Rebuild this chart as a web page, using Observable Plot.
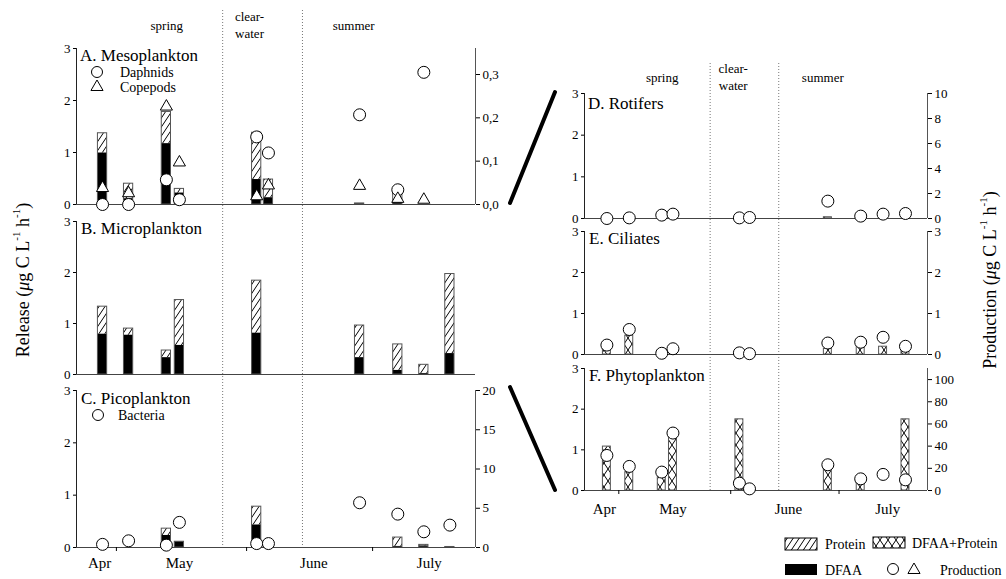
<!DOCTYPE html>
<html><head><meta charset="utf-8">
<script src="https://cdn.jsdelivr.net/npm/d3@7"></script>
<script src="https://cdn.jsdelivr.net/npm/@observablehq/plot@0.6"></script>
<style>
body{margin:0;background:#fff;}
#wrap{position:relative;width:1006px;height:579px;overflow:hidden;background:#fff;font-family:"Liberation Serif","Times New Roman",serif;}
#wrap svg, #wrap svg text{font-family:"Liberation Serif","Times New Roman",serif;}
</style></head><body><div id="wrap"></div>
<script>
// ---------- data ----------
const days = [26.7, 32.9, 41.9, 45.0, 63.4, 66.2, 87.9, 97.0, 103.2, 109.4];
const monthStarts = [30, 61, 91];
const monthLabels = ["Apr", "May", "June", "July"];
const monthLabelDays = [26, 45, 77, 104.5];
const seasonBreaks = [55.3, 74.3];
const seasonLabels = ["spring", "clear-\nwater", "summer"];
const seasonDays = [42, 61.7, 86.5];
const releaseTicks = [0, 1, 2, 3];

// A. Mesoplankton
const mesoTotal = [1.37, 0.40, 1.78, 0.30, 1.38, 0.48, 0.02, 0.21, 0, 0];
const mesoDFAA  = [0.99, 0.11, 1.17, 0.22, 0.48, 0.13, 0.02, 0.03, 0, 0];
const daphnids  = [0.0, 0.0, 0.057, 0.011, 0.156, 0.119, 0.207, 0.034, 0.305, null];
const copepods  = [0.038, 0.026, 0.226, 0.097, 0.019, 0.044, 0.043, 0.013, 0.011, null];
// B. Microplankton
const microTotal = [1.33, 0.90, 0.47, 1.46, 1.84, 0, 0.96, 0.59, 0.19, 1.97];
const microDFAA  = [0.79, 0.77, 0.33, 0.57, 0.81, 0, 0.33, 0.08, 0.02, 0.41];
// C. Picoplankton
const picoTotal = [0, 0, 0.36, 0.11, 0.78, 0, 0, 0.19, 0.05, 0.01];
const picoDFAA  = [0, 0, 0.23, 0.11, 0.43, 0, 0, 0.02, 0.03, 0.01];
const bacteria  = [0.4, 0.85, 0.3, 3.2, 0.5, 0.5, 5.7, 4.25, 2.0, 2.85];
// D. Rotifers
const rotRelease = [0, 0, 0, 0, 0, 0, 0.03, 0, 0, 0];
const rotifers   = [0.0, 0.05, 0.27, 0.35, 0.05, 0.08, 1.39, 0.19, 0.35, 0.40];
// E. Ciliates
const cilRelease = [0.18, 0.46, 0, 0, 0, 0, 0.14, 0.22, 0.19, 0.10];
const ciliates   = [0.23, 0.61, 0.03, 0.14, 0.04, 0.02, 0.28, 0.30, 0.42, 0.20];
// F. Phytoplankton
const phyRelease    = [1.08, 0.45, 0.33, 1.31, 1.75, 0, 0.57, 0.25, 0, 1.75];
const phytoplankton = [31.6, 21.7, 16.6, 51.8, 6.6, 1.5, 23.2, 10.5, 14.5, 9.6];

// ---------- layout ----------
const FONT = '"Liberation Serif","Times New Roman",Times,serif';
const X_DOMAIN = [20.5, 115.5];
const BW = 1.1;
const wrap = document.getElementById("wrap");
const COL = {
  L: {left: 0, width: 510, marginLeft: 76, marginRight: 35},
  R: {left: 560, width: 400, marginLeft: 24, marginRight: 33}
};
function place(svg, left, top) {
  svg.style.position = "absolute";
  svg.style.left = left + "px";
  svg.style.top = top + "px";
  svg.style.background = "transparent";
  svg.style.overflow = "visible";
  svg.style.fontFamily = FONT;
  svg.style.maxWidth = "none";
  svg.setAttribute("font-family", FONT);
  wrap.appendChild(svg);
}
const intFmt = d => String(d);

// season overlays (dotted lines + labels)
for (const s of [{c: COL.L, top: 0, height: 547, mt: 10, dy: 14}, {c: COL.R, top: 60, height: 430, mt: 3, dy: 13}]) {
  const svg = Plot.plot({
    width: s.c.width, height: s.height,
    marginLeft: s.c.marginLeft, marginRight: s.c.marginRight, marginTop: s.mt, marginBottom: 0,
    x: {domain: X_DOMAIN, axis: null, label: null},
    marks: [
      Plot.ruleX(seasonBreaks, {stroke: "#777", strokeDasharray: "1,2"}),
      Plot.text(seasonLabels, {x: (d, i) => seasonDays[i], text: d => d, frameAnchor: "top", dy: s.dy, lineAnchor: "middle", fontSize: 13, lineHeight: 1.3, fontFamily: FONT})
    ]
  });
  place(svg, s.c.left, s.top);
}

const commaFmt = d => d.toFixed(1).replace(".", ",");
const panels = [
  {col: "L", top: 0, height: 212, mt: 48, mb: 8, kind: "stack", total: mesoTotal, dfaa: mesoDFAA,
   right: {max: 0.36, ticks: [0, 0.1, 0.2, 0.3], fmt: commaFmt, series: [{v: daphnids, symbol: "circle"}, {v: copepods, symbol: "triangle"}]}},
  {col: "L", top: 212, height: 170, mt: 9, mb: 8, kind: "stack", total: microTotal, dfaa: microDFAA},
  {col: "L", top: 382, height: 197, mt: 8, mb: 32, kind: "stack", total: picoTotal, dfaa: picoDFAA, months: true, monthDy: 16,
   right: {max: 20, ticks: [0, 5, 10, 15, 20], fmt: intFmt, series: [{v: bacteria, symbol: "circle"}]}},
  {col: "R", top: 85, height: 139, mt: 8, mb: 6, kind: "cross", total: rotRelease,
   right: {max: 10, ticks: [0, 2, 4, 6, 8, 10], fmt: intFmt, series: [{v: rotifers, symbol: "circle"}]}},
  {col: "R", top: 224, height: 137, mt: 7, mb: 7, kind: "cross", total: cilRelease,
   right: {max: 3, ticks: [0, 1, 2, 3], fmt: intFmt, series: [{v: ciliates, symbol: "circle"}]}},
  {col: "R", top: 361, height: 159, mt: 7, mb: 30, kind: "cross", total: phyRelease, months: true, monthDy: 19,
   right: {max: 110, ticks: [0, 20, 40, 60, 80, 100], fmt: intFmt, series: [{v: phytoplankton, symbol: "circle"}]}}
];

for (const p of panels) {
  const c = COL[p.col];
  const data = days.map((d, i) => ({day: d, total: p.total[i], dfaa: p.dfaa ? p.dfaa[i] : 0})).filter(r => r.total > 0);
  const x1 = d => d.day - BW, x2 = d => d.day + BW;
  const marks = [];
  if (p.kind === "stack") {
    marks.push(Plot.rect(data.filter(r => r.total > r.dfaa), {x1, x2, y1: "dfaa", y2: "total", fill: "url(#hatch)"}));
    marks.push(Plot.rect(data.filter(r => r.dfaa > 0), {x1, x2, y1: () => 0, y2: "dfaa", fill: "black"}));
  } else {
    marks.push(Plot.rect(data, {x1, x2, y1: () => 0, y2: "total", fill: "url(#xhatch)"}));
  }
  marks.push(Plot.rect(data, {x1, x2, y1: () => 0, y2: "total", fill: "none", stroke: "#555", strokeWidth: 1}));
  marks.push(Plot.ruleY([0], {stroke: "#444"}));
  marks.push(Plot.ruleX([X_DOMAIN[0]], {stroke: "#222"}));
  marks.push(Plot.axisY({anchor: "left", ticks: releaseTicks, tickFormat: intFmt, tickSize: 3, tickPadding: 3, fontSize: 13, fontFamily: FONT, label: null}));
  if (p.months) {
    marks.push(Plot.axisX({anchor: "bottom", ticks: monthStarts, tickSize: 4, tickFormat: () => "", label: null}));
    marks.push(Plot.text(monthLabels, {x: (d, i) => monthLabelDays[i], text: d => d, frameAnchor: "bottom", dy: p.monthDy, lineAnchor: "middle", fontSize: 15, fontFamily: FONT}));
  }
  const xOpt = p.months ? {domain: X_DOMAIN, label: null} : {domain: X_DOMAIN, label: null, axis: null};
  const svg = Plot.plot({
    width: c.width, height: p.height,
    marginLeft: c.marginLeft, marginRight: c.marginRight, marginTop: p.mt, marginBottom: p.mb,
    x: xOpt, y: {domain: [0, 3], label: null}, marks
  });
  place(svg, c.left, p.top);

  if (p.right) {
    const r = p.right;
    const m = [
      Plot.ruleX([X_DOMAIN[1]], {stroke: "#555"}),
      Plot.axisY({anchor: "right", ticks: r.ticks, tickFormat: r.fmt, tickSize: 4, tickPadding: 3, fontSize: 13, fontFamily: FONT, label: null})
    ];
    for (const s of r.series) {
      const pts = days.map((d, i) => ({day: d, v: s.v[i]})).filter(q => q.v != null);
      m.push(Plot.dot(pts, {x: "day", y: "v", symbol: s.symbol, r: s.symbol === "triangle" ? 4.5 : 6, fill: "white", stroke: "black", strokeWidth: 1}));
    }
    const svg2 = Plot.plot({
      width: c.width, height: p.height,
      marginLeft: c.marginLeft, marginRight: c.marginRight, marginTop: p.mt, marginBottom: p.mb,
      x: {domain: X_DOMAIN, label: null, axis: null}, y: {domain: [0, r.max], label: null}, marks: m
    });
    place(svg2, c.left, p.top);
  }
}

// ---------- decorations: patterns, titles, legends, connectors ----------
const deco = d3.create("svg").attr("width", 1006).attr("height", 579).attr("font-family", FONT);
const defs = deco.append("defs");
const hp = defs.append("pattern").attr("id", "hatch").attr("patternUnits", "userSpaceOnUse").attr("width", 6).attr("height", 9);
hp.append("rect").attr("width", 6).attr("height", 9).attr("fill", "white");
hp.append("path").attr("d", "M-1,1.5 L1,-1.5 M0,9 L6,0 M5,10.5 L7,7.5").attr("stroke", "black").attr("stroke-width", 1).attr("fill", "none");
const xp = defs.append("pattern").attr("id", "xhatch").attr("patternUnits", "userSpaceOnUse").attr("width", 8).attr("height", 12);
xp.append("rect").attr("width", 8).attr("height", 12).attr("fill", "white");
xp.append("path").attr("d", "M0,0 L8,12 M8,0 L0,12").attr("stroke", "black").attr("stroke-width", 1).attr("fill", "none");

const svgDeco = deco.node();
place(svgDeco, 0, 0);
svgDeco.style.pointerEvents = "none";

const titles = [
  ["A. Mesoplankton", 80, 55], ["B. Microplankton", 81, 228], ["C. Picoplankton", 81, 398],
  ["D. Rotifers", 588, 103], ["E. Ciliates", 589, 238], ["F. Phytoplankton", 589, 375]
];
for (const [t, x, y] of titles) {
  deco.append("text").attr("x", x).attr("y", y).attr("font-size", 17).attr("dominant-baseline", "central").text(t);
}
const tri = d3.symbol(d3.symbolTriangle, Math.PI * 4.5 * 4.5)();
function circ(x, y) { deco.append("circle").attr("cx", x).attr("cy", y).attr("r", 5.5).attr("fill", "white").attr("stroke", "black"); }
function triangle(x, y) { deco.append("path").attr("d", tri).attr("transform", `translate(${x},${y})`).attr("fill", "white").attr("stroke", "black"); }
function label(t, x, y, size) { deco.append("text").attr("x", x).attr("y", y).attr("font-size", size).attr("dominant-baseline", "central").text(t); }

circ(97, 72); label("Daphnids", 120, 72, 14);
triangle(97, 87); label("Copepods", 120, 87, 14);
circ(98, 415); label("Bacteria", 118, 415, 14);

// connectors
deco.append("line").attr("x1", 510).attr("y1", 203).attr("x2", 555).attr("y2", 92).attr("stroke", "black").attr("stroke-width", 4).attr("stroke-linecap", "round");
deco.append("line").attr("x1", 510).attr("y1", 387).attr("x2", 555).attr("y2", 490).attr("stroke", "black").attr("stroke-width", 4).attr("stroke-linecap", "round");

// axis titles
const sup = '<tspan dy="-7" font-size="11">-1</tspan>';
deco.append("text").attr("transform", "translate(23,280) rotate(-90)").attr("text-anchor", "middle").attr("dominant-baseline", "central").attr("font-size", 18)
  .html(`Release (<tspan font-style="italic">μ</tspan>g C L${sup}<tspan dy="7"> h</tspan>${sup}<tspan dy="7">)</tspan>`);
deco.append("text").attr("transform", "translate(990,280) rotate(-90)").attr("text-anchor", "middle").attr("dominant-baseline", "central").attr("font-size", 18)
  .html(`Production (<tspan font-style="italic">μ</tspan>g C L${sup}<tspan dy="7"> h</tspan>${sup}<tspan dy="7">)</tspan>`);

// bottom legend
deco.append("rect").attr("x", 785).attr("y", 538).attr("width", 32).attr("height", 12).attr("fill", "url(#hatch)").attr("stroke", "black");
label("Protein", 825, 544, 14);
deco.append("rect").attr("x", 873).attr("y", 537).attr("width", 32).attr("height", 11).attr("fill", "url(#xhatch)").attr("stroke", "black");
label("DFAA+Protein", 912, 543, 14);
deco.append("rect").attr("x", 785).attr("y", 564).attr("width", 32).attr("height", 11).attr("fill", "black");
label("DFAA", 825, 570, 14);
circ(893, 569); triangle(914, 570);
label("Production", 940, 570, 14);
</script></body></html>
